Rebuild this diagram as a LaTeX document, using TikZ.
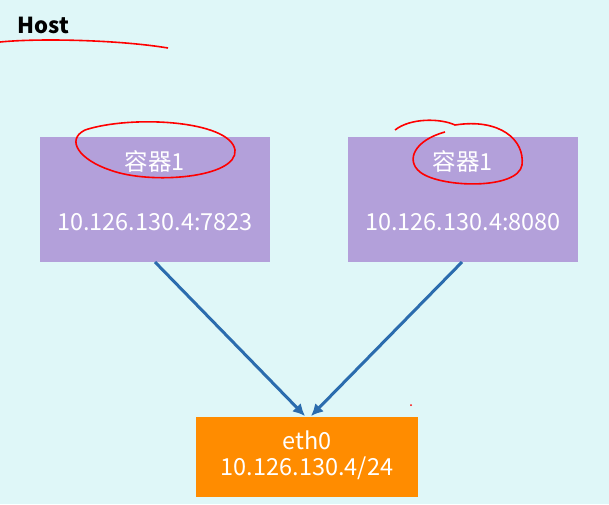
\documentclass[tikz,border=0pt]{standalone}
\usepackage{fontspec}
\setmainfont{Noto Sans CJK SC}
\usetikzlibrary{positioning,arrows.meta}
\definecolor{hostbg}{HTML}{DFF7F8}
\definecolor{boxpurple}{HTML}{B3A0DA}
\definecolor{ethorange}{HTML}{FF8C00}
\definecolor{linkblue}{HTML}{2B6CAE}
\tikzset{
    container/.style={fill=boxpurple, minimum width=230pt, minimum height=125pt, inner sep=0pt},
    ethbox/.style={fill=ethorange, minimum width=222pt, minimum height=80pt, inner sep=0pt},
    label/.style={text=white, font=\fontsize{23.5}{26}\selectfont},
    link/.style={linkblue, line width=3pt, -{Latex[length=12pt,width=12pt]}},
    scribble/.style={red, line width=1.6pt}
}
\begin{document}
\begin{tikzpicture}[x=1pt, y=-1pt]
    \fill[hostbg] (0,0) rectangle (609,504);
    \useasboundingbox (0,0) rectangle (609,504);

    \node[font=\fontsize{22}{24}\selectfont\bfseries, anchor=west] (host) at (14,25) {Host};
    \draw[scribble] (0,42) .. controls (40,38) and (120,40) .. (168,48);

    % containers
    \node[container] (c1) at (155,199.5) {};
    \node[container] (c2) at (462.5,199.5) {};
    \node[label] (c1name) at (155,161) {容器1};
    \node[label] (c1ip) at (155,222) {10.126.130.4:7823};
    \node[label] (c2name) at (463,161) {容器1};
    \node[label] (c2ip) at (463,222) {10.126.130.4:8080};

    % eth0
    \node[ethbox] (eth) at (307,456.5) {};
    \node[label] (ethname) at (307,440) {eth0};
    \node[label] (ethip) at (307,468) {10.126.130.4/24};

    \coordinate (c1out) at (155,262);
    \coordinate (c2out) at (462,262);
    \coordinate (ethin1) at (305,416);
    \coordinate (ethin2) at (311,416);
    \draw[link] (c1out) -- (ethin1);
    \draw[link] (c2out) -- (ethin2);

    % red marks
    \draw[scribble] (85,130) .. controls (130,115) and (230,120) .. (235,150)
        .. controls (238,178) and (150,185) .. (110,170)
        .. controls (80,160) and (65,140) .. (85,130);
    \draw[scribble] (395,130) .. controls (410,118) and (440,118) .. (455,125)
        .. controls (500,118) and (525,140) .. (522,165)
        .. controls (518,190) and (440,188) .. (420,172)
        .. controls (405,160) and (415,140) .. (445,132);
    \fill[red] (411,405) circle (1pt);
\end{tikzpicture}
\end{document}
